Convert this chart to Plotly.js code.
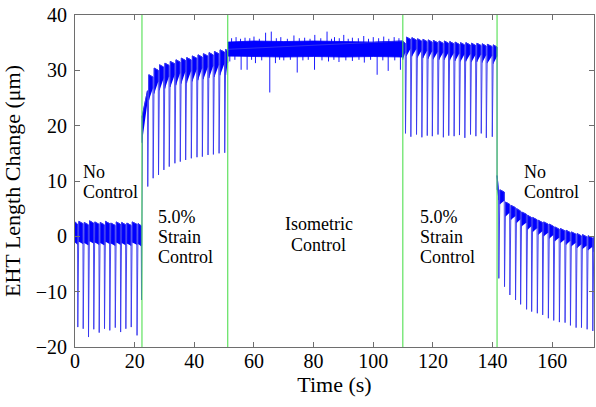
<!DOCTYPE html>
<html>
<head>
<meta charset="utf-8">
<script src="https://cdn.plot.ly/plotly-3.0.1.min.js"></script>
<style>
  html, body { margin: 0; padding: 0; background: #fff; }
  #chart { width: 596px; height: 407px; }
</style>
</head>
<body>
<div id="chart"></div>
<script>
// Times (s) at which the control mode was switched
const switchTimes = [22.45, 51.2, 109.9, 141.5];

// Phase 1 - no control: beat times, trough values, plateau level of each beat (µm)
const noCtrlADips     = [0.94, 2.75, 4.53, 6.30, 8.11, 9.89, 11.67, 13.5, 15.3, 17.05, 18.85, 20.8, 22.3];
const noCtrlATroughs  = [-16.4, -16.7, -18.2, -16.8, -17.4, -16.7, -17.0, -16.5, -17.3, -16.7, -16.4, -17.9, -11.5];
const noCtrlATops     = [2.6, 2.7, 2.5, 2.8, 2.6, 2.5, 2.7, 2.4, 2.6, 2.5, 2.4, 2.6, 2.3, 21.5];

// Phase 2 - 5.0% strain control
const strainADips     = [24.4, 26.2, 28.0, 29.8, 31.6, 33.5, 35.3, 37.1, 39.0, 40.9, 42.7, 44.6, 46.4, 48.3, 50.2];
const strainATroughs  = [9.0, 10.5, 11.1, 12.0, 12.6, 13.2, 13.5, 13.8, 14.1, 14.3, 14.4, 14.7, 14.8, 15.0, 15.1];
const strainATops     = [26.7, 29.2, 30.4, 31.0, 31.3, 31.6, 31.9, 32.2, 32.3, 32.6, 32.8, 33.0, 33.2, 33.4, 33.7, 33.8];

// Phase 3 - isometric control: envelope of the trace and its isolated spikes
const isoT            = [51.2, 60, 70, 80, 90, 100, 109.9];
const isoUpper        = [35.1, 35.3, 35.2, 35.3, 35.2, 35.1, 35.3];
const isoLower        = [32.6, 32.5, 32.4, 32.5, 32.4, 32.5, 32.4];
const isoSpikeUpT     = [52.5, 54.0, 55.5, 57.0, 58.6, 60.0, 61.8, 63.9, 65.8, 67.5, 69.0, 71.2, 73.4, 75.2, 77.0, 78.8, 80.4, 82.4,
                         84.5, 86.0, 87.0, 88.6, 90.1, 91.6, 93.0, 95.0, 96.8, 98.4, 100.0, 101.8, 103.5, 105.2, 107.0, 108.6];
const isoSpikeUpV     = [35.8, 36.0, 35.7, 35.9, 35.8, 36.1, 35.7, 36.8, 37.0, 35.8, 36.0, 35.7, 36.3, 35.8, 35.9, 35.7, 36.4, 35.8,
                         37.0, 35.7, 36.0, 35.8, 36.4, 35.7, 35.9, 35.8, 36.2, 35.7, 36.0, 35.8, 36.1, 35.7, 36.0, 35.8];
const isoSpikeDownT   = [51.9, 53.6, 55.7, 57.7, 59.2, 60.5, 62.6, 65.3, 67.2, 68.6, 70.0, 72.2, 74.5, 76.4, 78.2, 80.3, 82.8,
                         85.0, 86.8, 88.5, 90.8, 93.0, 95.2, 97.0, 99.1, 101.3, 103.2, 105.0, 107.2, 109.1];
const isoSpikeDownV   = [31.6, 31.9, 30.1, 30.1, 31.9, 31.3, 31.8, 26.0, 31.3, 31.9, 31.8, 31.9, 29.6, 31.8, 31.9, 30.1, 31.8,
                         31.6, 31.9, 31.5, 31.8, 31.7, 31.9, 31.4, 31.9, 29.2, 31.8, 29.9, 31.8, 30.1];

// Phase 4 - 5.0% strain control
const strainBDips     = [110.8, 112.6, 114.5, 116.3, 118.1, 119.8, 121.7, 123.5, 125.3, 127.1, 128.9, 130.7, 132.6, 134.4, 136.2, 137.9, 139.9];
const strainBTroughs  = [18.6, 18.0, 18.4, 17.9, 18.2, 18.1, 18.4, 17.9, 18.2, 18.1, 18.3, 17.8, 18.4, 18.1, 18.6, 17.8, 18.0];
const strainBTops     = [35.3, 36.0, 35.9, 35.7, 35.6, 35.5, 35.4, 35.3, 35.3, 35.2, 35.1, 35.0, 35.0, 34.9, 34.9, 34.8, 34.7, 34.6];

// Phase 5 - no control
const noCtrlBDips     = [142.1, 144.0, 145.8, 147.7, 149.4, 151.4, 153.1, 155.0, 156.8, 158.7, 160.5, 162.4, 164.3, 166.1, 168.0, 169.8, 171.7, 173.6];
const noCtrlBTroughs  = [-7.6, -9.1, -10.6, -11.5, -12.3, -13.2, -13.6, -13.9, -14.2, -14.8, -15.2, -15.5, -15.6, -16.1, -16.5, -16.5, -16.8, -17.1];
const noCtrlBTops     = [8.5, 8.4, 6.2, 5.6, 5.0, 4.4, 3.8, 3.4, 2.9, 2.6, 2.2, 1.7, 1.4, 1.1, 0.8, 0.5, 0.3, 0.1, -0.2];

const tEnd = 174;

// Phase labels: text lines, x (s) and line positions (µm)
const labelLines = [
  { text: 'No',        x: 2.1,   y: 11.7, anchor: 'left' },
  { text: 'Control',   x: 2.1,   y: 8.1,  anchor: 'left' },
  { text: '5.0%',      x: 27.2,  y: 3.5,  anchor: 'left' },
  { text: 'Strain',    x: 27.2,  y: -0.2, anchor: 'left' },
  { text: 'Control',   x: 27.2,  y: -3.8, anchor: 'left' },
  { text: 'Isometric', x: 81.7,  y: 2.2,  anchor: 'center' },
  { text: 'Control',   x: 81.7,  y: -1.6, anchor: 'center' },
  { text: '5.0%',      x: 115.0, y: 3.5,  anchor: 'left' },
  { text: 'Strain',    x: 115.0, y: -0.2, anchor: 'left' },
  { text: 'Control',   x: 115.0, y: -3.8, anchor: 'left' },
  { text: 'No',        x: 149.9, y: 11.7, anchor: 'left' },
  { text: 'Control',   x: 149.9, y: 8.1,  anchor: 'left' }
];

// ---- drawing ----
const FALL = 0.1, RISE = 0.35, DROP = 0.4;
const BLUE = '#0000ff';

const paced = [
  { start: 0,              end: switchTimes[0], level: noCtrlATops[0], dips: noCtrlADips, troughs: noCtrlATroughs, tops: noCtrlATops, depth: 3.7, taper: 1.0 },
  { start: switchTimes[0], end: switchTimes[1], level: 21.5,           dips: strainADips, troughs: strainATroughs, tops: strainATops, depth: 4.6, taper: 0.45 },
  { start: switchTimes[2], end: switchTimes[3], level: 35.3,           dips: strainBDips, troughs: strainBTroughs, tops: strainBTops, depth: 3.4, taper: 0.5 },
  { start: switchTimes[3], end: tEnd,           level: 11.0,           dips: noCtrlBDips, troughs: noCtrlBTroughs, tops: noCtrlBTops, depth: 2.6, taper: 0.6 }
];

// thin trace through every beat
const lineX = [], lineY = [];
// dense plateau of each beat
const bandX = [], bandY = [];

function addPhase(p) {
  lineX.push(p.start); lineY.push(p.level);
  p.dips.forEach((t, k) => {
    lineX.push(t - FALL, t, t + RISE);
    lineY.push(p.tops[k] - DROP, p.troughs[k], p.tops[k + 1]);
  });
  const n = p.dips.length;
  lineX.push(p.end); lineY.push(p.tops[n] - DROP);

  for (let k = 0; k <= n; k++) {
    const left = k === 0 ? p.start : p.dips[k - 1] + RISE;
    const right = k === n ? p.end : p.dips[k] - FALL;
    if (right <= left) continue;
    const topL = k === 0 ? p.level : p.tops[k];
    const topR = p.tops[k] - DROP;
    bandX.push(left, left, right, right, null);
    bandY.push(topL - p.depth, topL, topR, topR - p.depth * p.taper, null);
  }
}

addPhase(paced[0]);
addPhase(paced[1]);
// isometric section
lineX.push(switchTimes[1], switchTimes[2]); lineY.push(33.8, 35.3);
bandX.push(...isoT, ...isoT.slice().reverse(), null);
bandY.push(...isoUpper, ...isoLower.slice().reverse(), null);
addPhase(paced[2]);
addPhase(paced[3]);

const spikeX = [], spikeY = [];
isoSpikeUpT.forEach((t, i) => { spikeX.push(t, t, null); spikeY.push(35.0, isoSpikeUpV[i], null); });
isoSpikeDownT.forEach((t, i) => { spikeX.push(t, t, null); spikeY.push(32.6, isoSpikeDownV[i], null); });

const gX = [], gY = [];
switchTimes.forEach(t => { gX.push(t, t, null); gY.push(-20, 40, null); });

const serif = 'Times New Roman';

const traces = [
  { x: bandX, y: bandY, mode: 'lines', fill: 'toself', fillcolor: BLUE,
    line: { color: BLUE, width: 0.8 }, hoverinfo: 'skip', showlegend: false },
  { x: lineX, y: lineY, mode: 'lines', line: { color: '#3434ee', width: 0.9 },
    hoverinfo: 'skip', showlegend: false },
  { x: spikeX, y: spikeY, mode: 'lines', line: { color: BLUE, width: 0.9 },
    hoverinfo: 'skip', showlegend: false },
  { x: gX, y: gY, mode: 'lines', line: { color: '#4fe04f', width: 1.2 }, opacity: 0.9,
    hoverinfo: 'skip', showlegend: false }
];

const axisCommon = {
  showline: true, mirror: 'ticks', linecolor: '#6e6e6e', linewidth: 1,
  ticks: 'inside', ticklen: 5, tickwidth: 1, tickcolor: '#6e6e6e',
  showgrid: false, zeroline: false,
  tickfont: { family: serif, size: 20, color: '#000' }
};

const layout = {
  width: 596, height: 407,
  margin: { l: 75, r: 2, t: 15, b: 60 },
  paper_bgcolor: '#fff', plot_bgcolor: '#fff',
  font: { family: serif },
  xaxis: Object.assign({}, axisCommon, {
    range: [0, tEnd], tick0: 0, dtick: 20, ticklabelstandoff: -4,
    title: { text: 'Time (s)', font: { family: serif, size: 22, color: '#000' }, standoff: 2 }
  }),
  yaxis: Object.assign({}, axisCommon, {
    range: [-20, 40], tick0: -20, dtick: 10, ticklabelstandoff: 3,
    title: { text: 'EHT Length Change (μm)', font: { family: serif, size: 22, color: '#000' }, standoff: 11 }
  }),
  annotations: labelLines.map(l => ({
    x: l.x, y: l.y, xref: 'x', yref: 'y', text: l.text, showarrow: false,
    xanchor: l.anchor, yanchor: 'middle',
    font: { family: serif, size: 18, color: '#000' }
  }))
};

const config = { staticPlot: true, displayModeBar: false };

function draw() {
  return Plotly.newPlot('chart', traces, layout, config);
}

// draw at once, then again once the serif face is loaded so text is measured with it
draw();
if (document.fonts && document.fonts.load) {
  document.fonts.load('20px "Times New Roman"', 'Time 0123456789')
    .then(() => draw())
    .catch(() => {});
}
</script>
</body>
</html>
